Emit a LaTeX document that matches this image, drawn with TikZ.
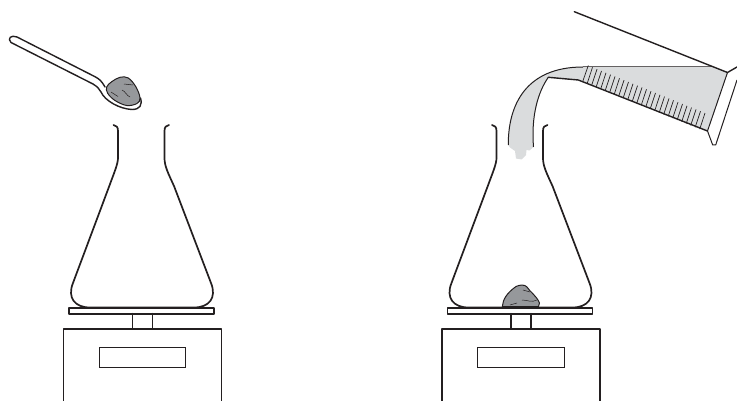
\documentclass[tikz,border=0pt]{standalone}
\usepackage{xcolor}
\definecolor{ink}{RGB}{35, 31, 32}
\definecolor{liquid}{RGB}{218, 220, 221}
\definecolor{rock}{RGB}{150, 152, 155}
\begin{document}
\begin{tikzpicture}[
  x=1pt, y=-1pt,
  glass/.style={draw=ink, line width=1.7pt, line cap=round, line join=round},
  thin line/.style={draw=ink, line width=1pt, line cap=round},
  rockfill/.style={draw=ink, fill=rock, line width=1pt, line join=round},
  rockmark/.style={draw=ink, line width=0.5pt}
]
\useasboundingbox (0,0) rectangle (737,401);

% two flasks on scales
\foreach \dx in {0,378.5} {
  \begin{scope}[xshift=\dx pt]
    \draw[glass] (113.5,125) .. controls (116.5,125.5) and (118,127) .. (118,131) -- (118,158)
      .. controls (118,164) and (114,173) .. (109.3,186) -- (73,283)
      .. controls (67,298) and (75,307.5) .. (90,307.5) -- (194,307.5)
      .. controls (209,307.5) and (217,298) .. (211,283) -- (174,186)
      .. controls (168,173) and (164.5,166) .. (164.5,158) -- (164.5,131)
      .. controls (164.5,127) and (166,125.5) .. (169,125);
    \draw[glass, fill=white, line width=1.6pt] (69,307.7) rectangle (214,313.7);
    \draw[glass] (132.5,313.7) -- (132.5,328.5);
    \draw[glass] (152.5,313.7) -- (152.5,328.5);
    \draw[glass, line cap=butt] (63.5,401) -- (63.5,328.7) -- (221.5,328.7) -- (221.5,401);
    \draw[thin line] (99,347.5) rectangle (185.5,367);
  \end{scope}
}

% spoon
\draw[glass, fill=white, line width=1.4pt] (105,87) .. controls (101,80) and (99,79) .. (95,76.7) -- (17,37)
  .. controls (11,34.5) and (7,38.5) .. (11,42.5) -- (93,84)
  .. controls (98,87) and (99,89) .. (101,92)
  .. controls (105,101) and (120,109) .. (132,109.5)
  .. controls (140,109.5) and (142.5,105) .. (140.5,98);
\draw[rockfill] plot[smooth cycle, tension=0.6] coordinates {(106.7,87) (111.7,81.7) (120,77.3) (128.3,78) (136,87) (140,98) (137,103.5) (126.7,105.5) (115,100.5) (107.7,93.3)};
\draw[rockmark] (111,92) -- (118,96.5);
\draw[rockmark] (122,90) .. controls (125,91) and (127,96) .. (130,97);
\draw[rockmark] (124,84) -- (133,85);

% rock in flask
\draw[rockfill] (502.3,306.5) .. controls (503,299) and (507,293) .. (516,286.5)
  .. controls (520,284.5) and (525,284.5) .. (527,287)
  .. controls (530,292) and (536,295) .. (539.5,303) -- (538.5,306.5) -- cycle;
\draw[rockmark] (510,305) -- (517,303);
\draw[rockmark] (522,300) .. controls (528,300) and (531,303) .. (537,300);
\draw[rockmark] (523,290) -- (530,292);

% liquid
\fill[liquid] (583,67) -- (713,67) -- (727.5,72.5) -- (707.5,131) -- (578.3,80) -- (548.3,77.3)
  .. controls (538,92) and (531,116) .. (533.5,147)
  -- (529.5,150.5) -- (526.5,150) -- (526,155) -- (521.7,159.5) -- (516,158.5) -- (515,151) -- (510,147.5) -- (508.3,145)
  .. controls (508,105) and (526,67) .. (583,67) -- cycle;
\draw[draw=ink!70, line width=1pt] (583,67) -- (713,67);
\draw[ink, line width=1pt] (508.3,145) .. controls (508,105) and (526,67) .. (583,67);
\draw[ink, line width=1pt] (533.5,147) .. controls (531,116) and (538,92) .. (548.3,77.3);

% measuring cylinder
\draw[glass, line width=1.4pt] (574.3,11.7) -- (727.5,72.5) -- (737,67);
\draw[glass, line width=1.4pt] (548.3,77.3) -- (578.3,80) -- (707.5,131);
\draw[ink, line width=1pt] (727.5,72.5) -- (707.5,131) -- (712.7,145) -- (715.7,145) -- (737,80);
\draw[ink, line width=0.7pt] (588.3,65.5) -- (582.7,81.5);
\foreach \i in {1,...,26} {
  \draw[ink, line width=0.7pt] ({582.7+\i*4.5},{81.5+\i*1.83}) -- ++(5.3,-16);
}
\end{tikzpicture}
\end{document}
